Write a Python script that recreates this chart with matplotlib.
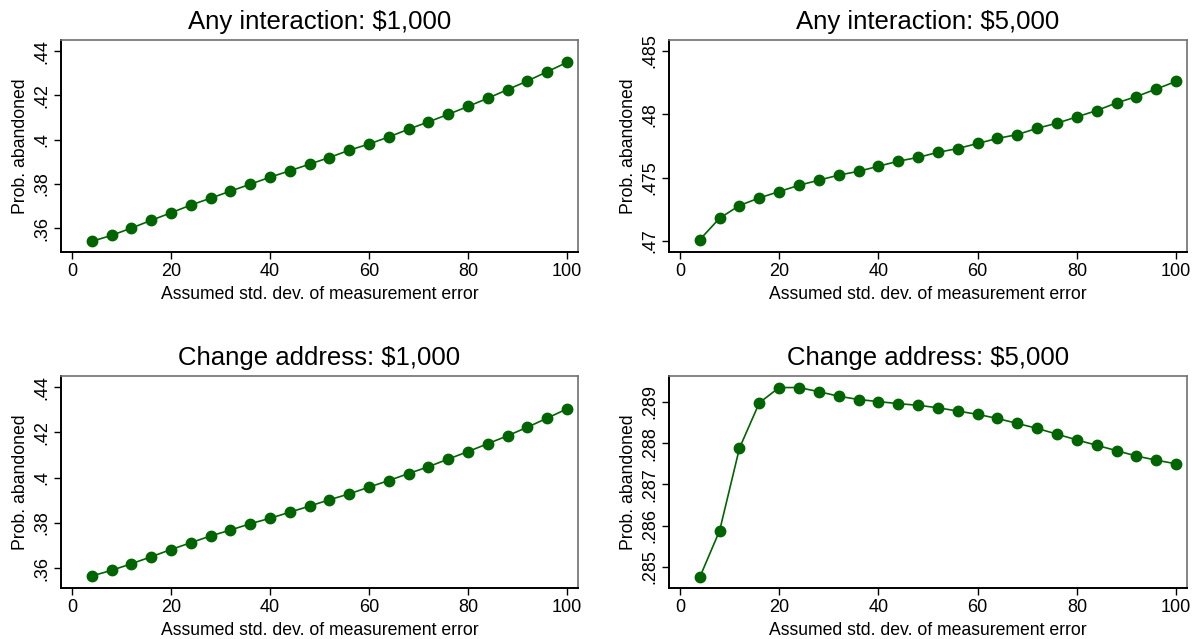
import matplotlib
matplotlib.use("Agg")
import matplotlib.pyplot as plt
from matplotlib.ticker import FuncFormatter


# x grid: assumed std. dev. of measurement error
sd_error = [4, 8, 12, 16, 20, 24, 28, 32, 36, 40, 44, 48, 52,
            56, 60, 64, 68, 72, 76, 80, 84, 88, 92, 96, 100]

any_1000 = [0.3540, 0.3567, 0.3600, 0.3635, 0.3669, 0.3704, 0.3735, 0.3767, 0.3798,
            0.3830, 0.3859, 0.3889, 0.3919, 0.3952, 0.3980, 0.4012, 0.4047, 0.4080,
            0.4114, 0.4150, 0.4187, 0.4226, 0.4265, 0.4307, 0.4349]

any_5000 = [0.4701, 0.4718, 0.4728, 0.4734, 0.4739, 0.4744, 0.4748, 0.4752, 0.4755,
            0.4759, 0.4763, 0.4766, 0.4770, 0.4773, 0.4777, 0.4781, 0.4784, 0.4789,
            0.4793, 0.4798, 0.4803, 0.4809, 0.4814, 0.4820, 0.4826]

addr_1000 = [0.3565, 0.3590, 0.3619, 0.3650, 0.3682, 0.3712, 0.3742, 0.3768, 0.3796,
             0.3820, 0.3847, 0.3874, 0.3902, 0.3928, 0.3958, 0.3987, 0.4018, 0.4048,
             0.4082, 0.4115, 0.4150, 0.4185, 0.4223, 0.4263, 0.4304]

addr_5000 = [0.28475, 0.28588, 0.28788, 0.28898, 0.28935, 0.28935, 0.28925, 0.28914,
             0.28906, 0.28901, 0.28896, 0.28892, 0.28886, 0.28878, 0.28870, 0.28860,
             0.28848, 0.28836, 0.28822, 0.28808, 0.28795, 0.28782, 0.28769, 0.28759,
             0.28750]

titles = ["Any interaction: $1,000", "Any interaction: $5,000",
          "Change address: $1,000", "Change address: $5,000"]
x_ticks = [0, 20, 40, 60, 80, 100]
y_ticks = [
    [0.36, 0.38, 0.40, 0.42, 0.44],
    [0.470, 0.475, 0.480, 0.485],
    [0.36, 0.38, 0.40, 0.42, 0.44],
    [0.285, 0.286, 0.287, 0.288, 0.289],
]
y_limits = [(0.3492, 0.4450), (0.46913, 0.48587), (0.3512, 0.4449), (0.28449, 0.28963)]
series = [any_1000, any_5000, addr_1000, addr_5000]

GREEN = "#006400"
plt.rcParams["font.family"] = ["Liberation Sans", "DejaVu Sans"]
plt.rcParams["mathtext.default"] = "regular"


def stata_fmt(v, _pos):
    # Stata style: drop the leading zero (.44, .4, .285)
    s = f"{v:.3f}".rstrip("0").rstrip(".")
    return s[1:] if s.startswith("0") else s


fig = plt.figure(figsize=(11.97, 6.39), dpi=100)
W, H = 1197, 639
# axes boxes in pixels: left, top, right, bottom
boxes = [(61, 40, 578, 252), (669, 40, 1187, 252),
         (61, 376, 578, 588), (669, 376, 1187, 588)]

for i, (l, t, r, b) in enumerate(boxes):
    ax = fig.add_axes([l / W, 1 - b / H, (r - l) / W, (b - t) / H])
    ax.plot(sd_error, series[i], color=GREEN, lw=1.2, marker="o",
            markersize=7.5, markerfacecolor=GREEN, markeredgecolor=GREEN)
    ax.set_xlim(-2.2, 102.2)
    ax.set_ylim(*y_limits[i])
    ax.set_xticks(x_ticks)
    ax.set_yticks(y_ticks[i])
    ax.yaxis.set_major_formatter(FuncFormatter(stata_fmt))
    ax.tick_params(axis="both", direction="out", length=5, width=1, labelsize=13, pad=3)
    for lab in ax.get_yticklabels():
        lab.set_rotation(90)
        lab.set_va("center")
    ax.spines["left"].set_linewidth(1.4)
    ax.spines["bottom"].set_linewidth(1.4)
    ax.spines["top"].set_color("#707070")
    ax.spines["right"].set_color("#707070")
    ax.spines["top"].set_linewidth(1.2)
    ax.spines["right"].set_linewidth(1.2)
    ax.set_title(titles[i].replace("$", r"\$"), fontsize=18.5, pad=8)
    ax.set_xlabel("Assumed std. dev. of measurement error", fontsize=12.7, labelpad=4)
    ax.set_ylabel("Prob. abandoned", fontsize=12.7, labelpad=3)

fig.savefig("out.png", dpi=100)
